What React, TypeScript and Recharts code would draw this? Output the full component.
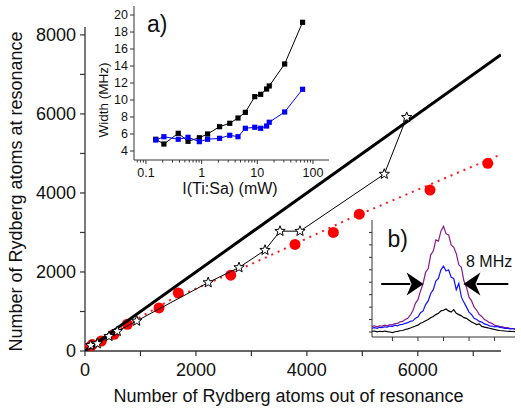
import React from 'react';
import {
    ScatterChart,
    Scatter,
    ComposedChart,
    Line,
    XAxis,
    YAxis,
    ReferenceLine,
    ReferenceDot,
} from 'recharts';

const FONT = '"Liberation Sans", Arial, Helvetica, sans-serif';
const AXIS = '#333';

// main panel: Rydberg atoms out of / at resonance
const starsOut = [103, 222, 433, 582, 932, 2221, 2777, 3245, 3516, 3876, 5396, 5800];
const starsAt = [144, 188, 372, 499, 760, 1733, 2113, 2552, 3033, 3033, 4478, 5914];
const dotsOut = [90, 132, 294, 523, 763, 1334, 1682, 2627, 3786, 4477, 4946, 6220, 7261];
const dotsAt = [101, 162, 253, 423, 677, 1090, 1470, 1918, 2696, 3000, 3464, 4072, 4749];
const fitOut = [0, 800, 1550, 2600, 3245, 4778, 7441];
const fitAt = [0, 700, 1300, 1950, 2357, 3355, 4941];
const diagOut = [0, 7500];
const diagAt = [0, 7500];
const mainXTicks = [0, 1000, 2000, 3000, 4000, 5000, 6000, 7000];
const mainYTicks = [0, 1000, 2000, 3000, 4000, 5000, 6000, 7000, 8000];

// inset a): linewidth vs Ti:Sa power
const powerMW = [0.15, 0.21, 0.38, 0.57, 0.91, 1.28, 2.1, 3.2, 4.5, 6.1, 9.0, 11.5, 14.7, 16.4, 31, 65];
const widthBlack = [5.38, 4.82, 6.08, 5.14, 5.56, 6.0, 6.86, 7.26, 7.88, 8.55, 10.39, 10.67, 11.29, 11.65, 14.24, 19.14];
const widthBlue = [5.29, 5.68, 5.38, 5.61, 5.1, 5.38, 5.49, 5.85, 5.68, 6.67, 6.79, 6.67, 6.94, 7.38, 8.59, 11.26];
const insetAXTicks = [0.07, 0.08, 0.09, 0.1, 0.2, 0.3, 0.4, 0.5, 0.6, 0.7, 0.8, 0.9, 1, 2, 3, 4, 5, 6, 7, 8, 9, 10, 20, 30, 40, 50, 60, 70, 80, 90, 100];
const insetAMajor = [0.1, 1, 10, 100];
const insetAYTicks = [4, 6, 8, 10, 12, 14, 16, 18, 20];

// inset b): spectra (detuning in MHz)
const detuning = [-14, -13.5, -13, -12.5, -12, -11.5, -11, -10.5, -10, -9.5, -9, -8.5, -8, -7.5, -7, -6.5, -6, -5.5, -5, -4.5, -4, -3.5, -3, -2.5, -2, -1.5, -1, -0.5, 0, 0.5, 1, 1.5, 2, 2.5, 3, 3.5, 4, 4.5, 5, 5.5, 6, 6.5, 7, 7.5, 8, 8.5, 9, 9.5, 10, 10.5, 11, 11.5, 12, 12.5, 13, 13.5, 14];
const specPurple = [0.45, 0.5, 0.42, 0.5, 0.48, 0.55, 0.5, 0.6, 0.58, 0.68, 0.7, 0.82, 0.85, 1.0, 1.1, 1.35, 1.7, 2.3, 2.6, 3.3, 3.9, 4.8, 5.1, 6.2, 6.5, 7.4, 7.3, 8.1, 8.5, 7.9, 7.8, 7.0, 6.8, 6.3, 5.4, 5.2, 4.1, 3.6, 2.8, 2.5, 2.0, 1.75, 1.4, 1.25, 1.0, 0.9, 0.75, 0.7, 0.55, 0.5, 0.45, 0.42, 0.35, 0.35, 0.3, 0.28, 0.25];
const specBlue = [0.32, 0.35, 0.3, 0.38, 0.35, 0.42, 0.4, 0.48, 0.45, 0.55, 0.5, 0.6, 0.62, 0.7, 0.75, 0.85, 0.9, 1.1, 1.2, 1.55, 1.7, 2.2, 2.5, 3.1, 3.4, 4.1, 4.3, 5.0, 5.3, 4.9, 5.0, 4.4, 4.3, 3.4, 3.9, 2.8, 2.4, 2.0, 1.6, 1.4, 1.1, 1.0, 0.85, 0.8, 0.65, 0.6, 0.5, 0.48, 0.42, 0.45, 0.38, 0.35, 0.3, 0.3, 0.25, 0.28, 0.22];
const specBlack = [0.05, 0.08, 0.02, 0.06, 0.04, 0.08, 0.03, 0.0, -0.05, 0.02, 0.05, 0.1, 0.12, 0.2, 0.25, 0.32, 0.4, 0.48, 0.55, 0.7, 0.78, 0.9, 1.0, 1.15, 1.25, 1.4, 1.5, 1.7, 1.75, 1.85, 1.7, 1.6, 1.8, 1.5, 1.4, 1.3, 1.15, 1.1, 0.95, 0.8, 0.7, 0.6, 0.65, 0.45, 0.4, 0.35, 0.3, 0.25, 0.2, 0.15, 0.12, 0.1, 0.08, 0.06, 0.05, 0.04, 0.03];

const zip = (xs: number[], ys: number[]) => xs.map((x, i) => ({ x, y: ys[i] }));

const starData = zip(starsOut, starsAt);
const dotData = zip(dotsOut, dotsAt);
const fitData = zip(fitOut, fitAt);
const diagData = zip(diagOut, diagAt);
const blackSquares = zip(powerMW, widthBlack);
const blueSquares = zip(powerMW, widthBlue);
const spectra = detuning.map((x, i) => ({ x, purple: specPurple[i], blue: specBlue[i], black: specBlack[i] }));

const Empty = () => <g />;

const RedDot = (p: any) => <circle cx={p.cx} cy={p.cy} r={5.5} fill="#ff0000" />;

const Star = (p: any) => {
    const pts: string[] = [];
    for (let i = 0; i < 10; i++) {
        const a = (-90 + i * 36) * Math.PI / 180;
        const r = i % 2 === 0 ? 5.4 : 2.3;
        pts.push(`${p.cx + r * Math.cos(a)},${p.cy + r * Math.sin(a)}`);
    }
    return <polygon points={pts.join(' ')} fill="#fff" stroke="#000" strokeWidth={1} />;
};

const square = (color: string) => (p: any) => (
    <rect x={p.cx - 2.6} y={p.cy - 2.6} width={5.2} height={5.2} fill={color} />
);

const LogTick = (p: any) => {
    const v = p.payload.value;
    const major = insetAMajor.includes(v);
    const axisY = p.y - 6;
    return (
        <g>
            <line x1={p.x} x2={p.x} y1={axisY} y2={axisY + (major ? 4 : 2.5)} stroke={AXIS} strokeWidth={1} />
            {major && (
                <text x={p.x} y={axisY + 17} textAnchor="middle" fontSize={12.5} fill="#111" fontFamily={FONT}>
                    {v}
                </text>
            )}
        </g>
    );
};

const arrowRight = (p: any) => (
    <path d={`M${p.cx},${p.cy} L${p.cx - 17},${p.cy - 11.5} L${p.cx - 12},${p.cy} L${p.cx - 17},${p.cy + 11.5} Z`} fill="#000" />
);
const arrowLeft = (p: any) => (
    <path d={`M${p.cx},${p.cy} L${p.cx + 17},${p.cy - 11.5} L${p.cx + 12},${p.cy} L${p.cx + 17},${p.cy + 11.5} Z`} fill="#000" />
);

export default function App() {
    return (
        <div style={{ position: 'relative', width: 521, height: 410, background: '#fff', fontFamily: FONT }}>
            <style>{`body{margin:0}`}</style>

            {/* main panel */}
            <div style={{ position: 'absolute', left: 0, top: 0 }}>
                <ScatterChart width={521} height={410} margin={{ top: 27, right: 20, bottom: 0, left: 0 }}>
                    <XAxis
                        type="number"
                        dataKey="x"
                        domain={[0, 7500]}
                        allowDataOverflow
                        ticks={mainXTicks}
                        interval={0}
                        tickFormatter={(v: number) => (v % 2000 === 0 ? String(v) : '')}
                        height={59}
                        tickSize={5}
                        tickMargin={7}
                        axisLine={{ stroke: AXIS, strokeWidth: 1.3 }}
                        tickLine={{ stroke: AXIS, strokeWidth: 1.2 }}
                        tick={{ fontSize: 18, fill: '#111', fontFamily: FONT }}
                    />
                    <YAxis
                        type="number"
                        dataKey="y"
                        domain={[0, 8200]}
                        allowDataOverflow
                        ticks={mainYTicks}
                        interval={0}
                        tickFormatter={(v: number) => (v % 2000 === 0 ? String(v) : '')}
                        width={85}
                        tickSize={5}
                        tickMargin={4}
                        axisLine={{ stroke: AXIS, strokeWidth: 1.3 }}
                        tickLine={{ stroke: AXIS, strokeWidth: 1.2 }}
                        tick={{ fontSize: 18, fill: '#111', fontFamily: FONT }}
                    />
                    <Scatter data={fitData} line={{ stroke: '#ff1a1a', strokeWidth: 2, strokeDasharray: '2 5' }} shape={Empty} isAnimationActive={false} />
                    <Scatter data={dotData} shape={RedDot} isAnimationActive={false} />
                    <Scatter data={diagData} line={{ stroke: '#000', strokeWidth: 3 }} shape={Empty} isAnimationActive={false} />
                    <Scatter data={starData} line={{ stroke: '#000', strokeWidth: 1 }} shape={Star} isAnimationActive={false} />
                </ScatterChart>
            </div>

            {/* inset a) */}
            <div style={{ position: 'absolute', left: 0, top: 0 }}>
                <ScatterChart width={340} height={200} margin={{ top: 6, right: 11, bottom: 0, left: 0 }}>
                    <XAxis
                        type="number"
                        dataKey="x"
                        scale="log"
                        domain={[0.061, 194]}
                        allowDataOverflow
                        ticks={insetAXTicks}
                        interval={0}
                        height={40}
                        tickSize={4}
                        tickMargin={2}
                        tickLine={false}
                        axisLine={{ stroke: AXIS, strokeWidth: 1 }}
                        tick={LogTick}
                    />
                    <YAxis
                        type="number"
                        dataKey="y"
                        domain={[2.94, 21.06]}
                        allowDataOverflow
                        ticks={insetAYTicks}
                        interval={0}
                        width={134}
                        tickSize={4}
                        tickMargin={2}
                        axisLine={{ stroke: AXIS, strokeWidth: 1 }}
                        tickLine={{ stroke: AXIS, strokeWidth: 1 }}
                        tick={{ fontSize: 12.5, fill: '#111', fontFamily: FONT }}
                    />
                    <Scatter data={blackSquares} line={{ stroke: '#000', strokeWidth: 1 }} shape={square('#000')} isAnimationActive={false} />
                    <Scatter data={blueSquares} line={{ stroke: '#0000ff', strokeWidth: 1 }} shape={square('#0000ff')} isAnimationActive={false} />
                </ScatterChart>
            </div>

            {/* inset b) */}
            <div style={{ position: 'absolute', left: 360, top: 210 }}>
                <ComposedChart width={161} height={135} data={spectra} margin={{ top: 10, right: 6, bottom: 0, left: 0 }}>
                    <XAxis
                        type="number"
                        dataKey="x"
                        domain={[-14, 14]}
                        allowDataOverflow
                        ticks={[-10, -5, 0, 5, 10]}
                        interval={0}
                        tickFormatter={() => ''}
                        height={8}
                        tickSize={4}
                        axisLine={{ stroke: AXIS, strokeWidth: 1 }}
                        tickLine={{ stroke: AXIS, strokeWidth: 1 }}
                    />
                    <YAxis
                        type="number"
                        domain={[-0.4, 9]}
                        allowDataOverflow
                        ticks={[0, 1, 2, 3, 4, 5, 6, 7, 8]}
                        interval={0}
                        tickFormatter={() => ''}
                        width={12}
                        tickSize={3}
                        axisLine={{ stroke: AXIS, strokeWidth: 1 }}
                        tickLine={{ stroke: AXIS, strokeWidth: 1 }}
                    />
                    <Line dataKey="purple" stroke="#8b1a8b" strokeWidth={1.2} dot={false} isAnimationActive={false} />
                    <Line dataKey="blue" stroke="#1010ff" strokeWidth={1.2} dot={false} isAnimationActive={false} />
                    <Line dataKey="black" stroke="#000" strokeWidth={1.2} dot={false} isAnimationActive={false} />
                    <ReferenceLine segment={[{ x: -12.2, y: 3.86 }, { x: -6.5, y: 3.86 }]} stroke="#000" strokeWidth={2} />
                    <ReferenceLine segment={[{ x: 6.5, y: 3.86 }, { x: 12.7, y: 3.86 }]} stroke="#000" strokeWidth={2} />
                    <ReferenceDot x={-3.9} y={3.86} r={1} shape={arrowRight} />
                    <ReferenceDot x={3.9} y={3.86} r={1} shape={arrowLeft} />
                </ComposedChart>
            </div>

            {/* titles and panel labels */}
            <svg width={521} height={410} style={{ position: 'absolute', left: 0, top: 0, pointerEvents: 'none' }}>
                <text x={288.5} y={401.5} textAnchor="middle" fontSize={18} fill="#111" fontFamily={FONT}>
                    Number of Rydberg atoms out of resonance
                </text>
                <text transform="translate(21.5,191.5) rotate(-90)" textAnchor="middle" fontSize={18} fill="#111" fontFamily={FONT}>
                    Number of Rydberg atoms at resonance
                </text>
                <text transform="translate(108,100) rotate(-90)" textAnchor="middle" fontSize={13.5} fill="#111" fontFamily={FONT}>
                    Width (MHz)
                </text>
                <text x={230} y={194} textAnchor="middle" fontSize={16} fill="#111" fontFamily={FONT}>
                    I(Ti:Sa) (mW)
                </text>
                <text x={147} y={31.5} fontSize={23} fill="#111" fontFamily={FONT}>a)</text>
                <text x={387.5} y={246.5} fontSize={23} fill="#111" fontFamily={FONT}>b)</text>
                <text x={466} y={267} fontSize={16} fill="#111" fontFamily={FONT}>8 MHz</text>
            </svg>
        </div>
    );
}
